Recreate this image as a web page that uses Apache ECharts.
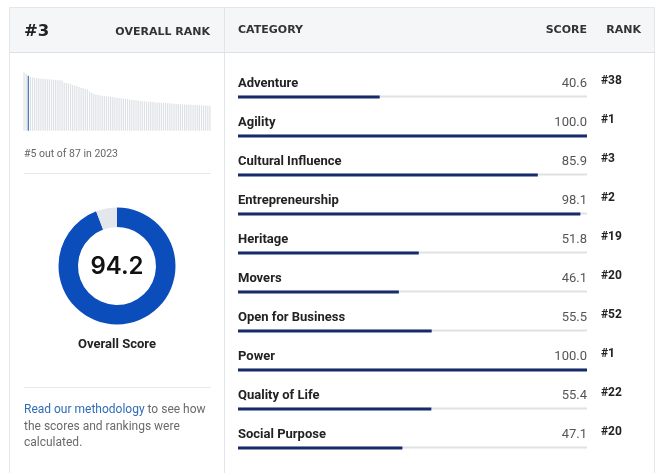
<!DOCTYPE html>
<html>
<head>
<meta charset="utf-8">
<script src="https://cdn.jsdelivr.net/npm/echarts@6/dist/echarts.min.js"></script>
<style>
html,body{margin:0;padding:0;background:#fff;}
#chart{width:660px;height:473px;}
</style>
</head>
<body>
<div id="chart"></div>
<script>
// ---- data ----
const overallRank = '#3';
const overallScore = 94.2;
const previousRankText = '#5 out of 87 in 2023';
const highlightIndex = 2;
const distributionScores = [
  100, 97.5, 94.2, 92, 91,
  90.5, 90, 89.5, 89, 88.8,
  88.5, 88.2, 88, 87.6, 87.2,
  86.9, 86.5, 86.2, 85.8, 82,
  81.5, 81, 80.5, 78, 77.5, 76.5, 75,
  73.5, 72.5, 71.5, 70.5,
  67, 65, 63, 62,
  61, 60.5, 60, 59.5, 59,
  58.5, 58, 57.5, 57, 56.5,
  56, 55.5, 55, 54.5, 54,
  53.5, 53, 52.5, 52, 51.5,
  51, 50.5, 50.3, 50, 49.7,
  49.4, 49.1, 48.8, 48.5, 48.2,
  47.9, 47.6, 47.3, 47, 46.7,
  46.4, 46.1, 45.8, 45.6, 45.4,
  45.2, 45, 44.8, 44.6, 44.4,
  44.2, 44, 43.8, 43.6, 43.4,
  43.2, 43, 42.8, 42.6
];
const categories = ['Adventure', 'Agility', 'Cultural Influence', 'Entrepreneurship', 'Heritage',
  'Movers', 'Open for Business', 'Power', 'Quality of Life', 'Social Purpose'];
const scores = [40.6, 100.0, 85.9, 98.1, 51.8, 46.1, 55.5, 100.0, 55.4, 47.1];
const ranks = ['#38', '#1', '#3', '#2', '#19', '#20', '#52', '#1', '#22', '#20'];
const scoreMax = 100;

// ---- chart ----
const chart = echarts.init(document.getElementById('chart'), null, {renderer: 'canvas'});
const BODY = 'Roboto, "Liberation Sans", sans-serif';
const HEAD = '"DejaVu Sans", sans-serif';
const full = categories.map(() => scoreMax);

const option = {
  animation: false,
  backgroundColor: '#ffffff',
  graphic: [
    {type: 'rect', z: -10, shape: {x: 9.5, y: 7.5, width: 645, height: 480},
      style: {fill: '#ffffff', stroke: '#e4e6e9', lineWidth: 1}},
    {type: 'rect', z: -9, shape: {x: 10, y: 8, width: 644, height: 44},
      style: {fill: '#f5f6f8'}},
    {type: 'line', z: -8, shape: {x1: 10, y1: 52.5, x2: 655, y2: 52.5},
      style: {stroke: '#dcdfe3', lineWidth: 1}},
    {type: 'line', z: -8, shape: {x1: 224.5, y1: 8, x2: 224.5, y2: 473},
      style: {stroke: '#e2e4e7', lineWidth: 1}},
    {type: 'line', z: -8, shape: {x1: 24, y1: 173.5, x2: 211, y2: 173.5},
      style: {stroke: '#e6e8eb', lineWidth: 1}},
    {type: 'line', z: -8, shape: {x1: 24, y1: 387.5, x2: 211, y2: 387.5},
      style: {stroke: '#e6e8eb', lineWidth: 1}},
    {type: 'text', x: 24, y: 32, style: {text: overallRank, font: 'bold 16.5px ' + HEAD,
      fill: '#222', textVerticalAlign: 'middle'}},
    {type: 'text', x: 210, y: 32, style: {text: 'OVERALL RANK', font: 'bold 11px ' + HEAD,
      fill: '#333', textAlign: 'right', textVerticalAlign: 'middle'}},
    {type: 'text', x: 238, y: 30.5, style: {text: 'CATEGORY', font: 'bold 11px ' + HEAD,
      fill: '#333', textVerticalAlign: 'middle'}},
    {type: 'text', x: 587, y: 30.5, style: {text: 'SCORE', font: 'bold 11px ' + HEAD,
      fill: '#333', textAlign: 'right', textVerticalAlign: 'middle'}},
    {type: 'text', x: 641, y: 30.5, style: {text: 'RANK', font: 'bold 11px ' + HEAD,
      fill: '#333', textAlign: 'right', textVerticalAlign: 'middle'}},
    {type: 'text', x: 24, y: 154.5, style: {text: previousRankText, font: '10.5px ' + BODY,
      fill: '#666', textVerticalAlign: 'middle'}},
    {type: 'text', x: 117, y: 267, style: {text: overallScore.toFixed(1), font: '600 24px Inter, sans-serif',
      fill: '#111', textAlign: 'center', textVerticalAlign: 'middle'}},
    {type: 'text', x: 117, y: 344.5, style: {text: 'Overall Score', font: 'bold 13px ' + BODY,
      fill: '#222', textAlign: 'center', textVerticalAlign: 'middle'}},
    {type: 'text', x: 24, y: 402, style: {
      text: '{a|Read our methodology} to see how\nthe scores and rankings were\ncalculated.',
      font: '12px ' + BODY, fill: '#6a6a6a', lineHeight: 16.5,
      rich: {a: {fill: '#2f6cb5', font: '12px ' + BODY, lineHeight: 16.5}}
    }}
  ],
  grid: [
    {left: 23, top: 72.3, width: 188, height: 58.4, containLabel: false},
    {left: 238, top: 77.5, width: 349, height: 390, containLabel: false}
  ],
  xAxis: [
    {gridIndex: 0, type: 'category', data: distributionScores.map((v, i) => i + 1), show: false},
    {gridIndex: 1, type: 'value', min: 0, max: scoreMax, show: false}
  ],
  yAxis: [
    {gridIndex: 0, type: 'value', min: 0, max: scoreMax, show: false},
    {gridIndex: 1, type: 'category', data: categories, inverse: true, show: false}
  ],
  series: [
    {
      type: 'bar', xAxisIndex: 0, yAxisIndex: 0, silent: true, barWidth: 1.2,
      data: distributionScores.map((v, i) => i === highlightIndex
        ? {value: v, itemStyle: {color: '#3b6eaa'}} : v),
      itemStyle: {color: '#dde0e4'}
    },
    {
      type: 'pie', silent: true, center: [117, 266], radius: [39, 58.5],
      startAngle: 90, clockwise: true, label: {show: false}, labelLine: {show: false},
      data: [
        {value: overallScore, itemStyle: {color: '#0b4dbb'}},
        {value: scoreMax - overallScore, itemStyle: {color: '#e3e7ec'}}
      ]
    },
    {
      name: 'track', type: 'bar', xAxisIndex: 1, yAxisIndex: 1, silent: true,
      barWidth: 2, barGap: '-100%', z: 2, data: full,
      itemStyle: {color: '#dfe1e5'},
      label: {show: true, position: [0, -12], align: 'left', verticalAlign: 'middle',
        formatter: p => categories[p.dataIndex],
        fontFamily: 'Roboto', fontWeight: 'bold', fontSize: 13, color: '#222'}
    },
    {
      name: 'scoreText', type: 'bar', xAxisIndex: 1, yAxisIndex: 1, silent: true,
      barWidth: 2, barGap: '-100%', z: 1, data: full,
      itemStyle: {color: 'transparent'},
      label: {show: true, position: ['100%', -12], align: 'right', verticalAlign: 'middle',
        formatter: p => scores[p.dataIndex].toFixed(1),
        fontFamily: 'Roboto', fontSize: 13, color: '#555'}
    },
    {
      name: 'rankText', type: 'bar', xAxisIndex: 1, yAxisIndex: 1, silent: true,
      barWidth: 2, barGap: '-100%', z: 1, data: full,
      itemStyle: {color: 'transparent'},
      label: {show: true, position: ['100%', -14.5], offset: [14, 0], align: 'left', verticalAlign: 'middle',
        formatter: p => ranks[p.dataIndex],
        fontFamily: 'Roboto', fontWeight: 'bold', fontSize: 12, color: '#222'}
    },
    {
      name: 'score', type: 'bar', xAxisIndex: 1, yAxisIndex: 1, silent: true,
      barWidth: 3, barGap: '-100%', z: 3, data: scores,
      itemStyle: {color: '#172b6b'}
    }
  ]
};
chart.setOption(option);
</script>
</body>
</html>
